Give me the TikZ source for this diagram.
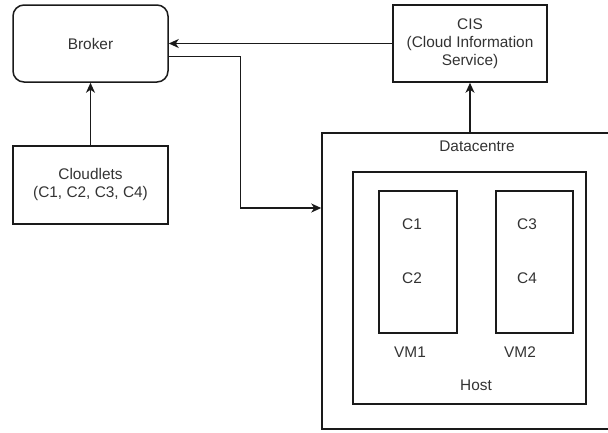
\documentclass[tikz,border=0pt]{standalone}
\usepackage{fontspec}
\setmainfont{Liberation Sans}
\usetikzlibrary{arrows.meta}
\definecolor{lineA}{RGB}{26, 26, 26}
\definecolor{textA}{RGB}{51, 51, 51}
\tikzset{
  box/.style={rectangle, draw=lineA, line width=1.5pt, inner sep=0pt, align=center,
    text=textA, font=\fontsize{15.4}{18}\selectfont},
  lbl/.style={inner sep=0pt, text=textA, font=\fontsize{15.4}{18}\selectfont},
  flow/.style={draw=lineA, line width=1.5pt, -{Stealth[length=10pt, width=9pt, inset=3pt]}},
}

\begin{document}
\begin{tikzpicture}[x=1pt, y=-1pt]
  \useasboundingbox (0,0) rectangle (608,432);

  \node[box, rounded corners=11pt, minimum width=155pt, minimum height=77pt] (broker) at (90.5, 43.5) {Broker};
  \node[box, minimum width=154pt, minimum height=77pt] (cis) at (470, 43.5) {CIS\\(Cloud Information\\Service)};
  \node[box, minimum width=155pt, minimum height=78pt] (cloudlets) at (90.5, 185) {Cloudlets\\(C1, C2, C3, C4)};

  \node[box, minimum width=310pt, minimum height=296pt] (dc)   at (477, 281) {};
  \node[box, minimum width=233pt, minimum height=232pt] (host) at (469.5, 288) {};
  \node[box, minimum width=78pt,  minimum height=142pt] (vmA)  at (418, 262) {};
  \node[box, minimum width=77pt,  minimum height=142pt] (vmB)  at (534.5, 262) {};

  \node[lbl] (dclbl)   at (477, 146) {Datacentre};
  \node[lbl] (hostlbl) at (476, 385) {Host};
  \node[lbl] (vmAlbl)  at (410, 352) {VM1};
  \node[lbl] (vmBlbl)  at (520, 352) {VM2};
  \node[lbl] (cA) at (412, 224) {C1};
  \node[lbl] (cB) at (412, 278) {C2};
  \node[lbl] (cC) at (527, 224) {C3};
  \node[lbl] (cD) at (527, 278) {C4};

  \coordinate (dcin) at ([yshift=73pt]dc.west);

  \path[flow] (cis.west) -- (broker.east);
  \path[flow] (cloudlets.north) -- (broker.south);
  \path[flow] ([yshift=-13pt]broker.east) -| ([xshift=-81pt]dcin) -- (dcin);
  \path[flow] (cis.south |- dc.north) -- (cis.south);
\end{tikzpicture}
\end{document}
